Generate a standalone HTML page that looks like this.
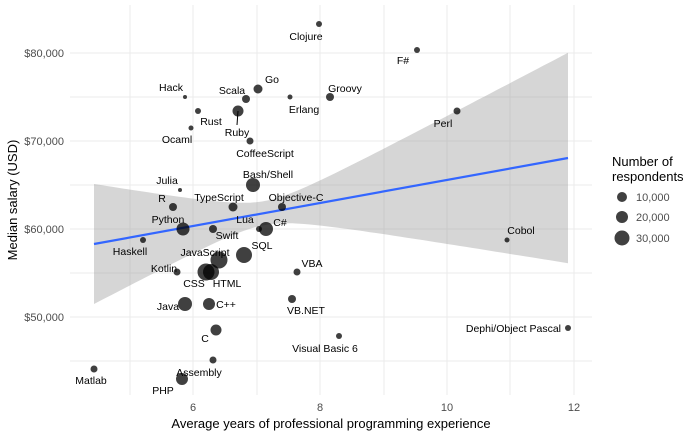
<!DOCTYPE html>
<html><head><meta charset="utf-8"><style>
body{margin:0;background:#fff;}
svg{display:block;font-family:"Liberation Sans",Arial,sans-serif;}
.l{font-size:10.5px;fill:#000;text-anchor:middle;}
.t{font-size:11px;fill:#4d4d4d;}
</style></head><body>
<svg id="s" width="700" height="437" viewBox="0 0 700 437" xmlns="http://www.w3.org/2000/svg">
<g stroke="#ebebeb" stroke-width="1">
<line x1="70" x2="592" y1="53" y2="53"/><line x1="70" x2="592" y1="97" y2="97"/>
<line x1="70" x2="592" y1="141" y2="141"/><line x1="70" x2="592" y1="185" y2="185"/>
<line x1="70" x2="592" y1="229" y2="229"/><line x1="70" x2="592" y1="273" y2="273"/>
<line x1="70" x2="592" y1="317" y2="317"/><line x1="70" x2="592" y1="361" y2="361"/>
<line y1="5" y2="395" x1="130" x2="130"/><line y1="5" y2="395" x1="193" x2="193"/>
<line y1="5" y2="395" x1="257" x2="257"/><line y1="5" y2="395" x1="320" x2="320"/>
<line y1="5" y2="395" x1="384" x2="384"/><line y1="5" y2="395" x1="447" x2="447"/>
<line y1="5" y2="395" x1="510" x2="510"/><line y1="5" y2="395" x1="574" x2="574"/>
</g>
<path id="band" fill="#999" fill-opacity="0.4" d=""/>
<line x1="94" y1="244" x2="568" y2="158" stroke="#3366ff" stroke-width="2.2"/>
<g fill="#000" fill-opacity="0.75">
<circle cx="319" cy="24" r="3"/><circle cx="417" cy="50" r="3"/><circle cx="185" cy="97" r="2"/>
<circle cx="246" cy="99" r="4"/><circle cx="258" cy="89" r="4.5"/><circle cx="290" cy="97" r="2.5"/>
<circle cx="330" cy="97" r="4"/><circle cx="198" cy="111" r="3"/><circle cx="238" cy="111" r="5.5"/>
<circle cx="191" cy="128" r="2.5"/><circle cx="457" cy="111" r="3.5"/><circle cx="250" cy="141" r="3.5"/>
<circle cx="180" cy="190" r="2"/><circle cx="253" cy="185" r="7"/><circle cx="173" cy="207" r="4"/>
<circle cx="233" cy="207" r="4.5"/><circle cx="282" cy="207" r="4"/><circle cx="183" cy="229" r="6.5"/>
<circle cx="213" cy="229" r="4"/><circle cx="259" cy="229" r="3"/><circle cx="266" cy="229" r="7"/>
<circle cx="143" cy="240" r="3"/><circle cx="507" cy="240" r="2.5"/><circle cx="244" cy="255" r="8"/>
<circle cx="219" cy="260" r="8.5"/><circle cx="297" cy="272" r="3.5"/><circle cx="177" cy="272" r="3.5"/>
<circle cx="206" cy="272" r="8.5"/><circle cx="211" cy="272" r="8"/><circle cx="185" cy="304" r="7"/>
<circle cx="209" cy="304" r="6"/><circle cx="292" cy="299" r="4"/><circle cx="216" cy="330" r="5.5"/>
<circle cx="568" cy="328" r="3"/><circle cx="339" cy="336" r="3"/><circle cx="213" cy="360" r="3.5"/>
<circle cx="94" cy="369" r="3.5"/><circle cx="182" cy="379" r="6"/>
</g>
<line x1="238" y1="111" x2="237" y2="125" stroke="#000"/>
<g class="l">
<text x="306" y="40">Clojure</text><text x="403" y="64">F#</text><text x="171" y="91">Hack</text>
<text x="232" y="94">Scala</text><text x="272" y="83">Go</text><text x="304" y="113">Erlang</text>
<text x="345" y="92">Groovy</text><text x="211" y="125">Rust</text><text x="237" y="136">Ruby</text>
<text x="177" y="143">Ocaml</text><text x="443" y="127">Perl</text><text x="265" y="157">CoffeeScript</text>
<text x="167" y="184">Julia</text><text x="268" y="178">Bash/Shell</text><text x="162" y="202">R</text>
<text x="219" y="201">TypeScript</text><text x="296" y="201">Objective-C</text><text x="168" y="223">Python</text>
<text x="227" y="239">Swift</text><text x="245" y="223">Lua</text><text x="280" y="226">C#</text>
<text x="130" y="255">Haskell</text><text x="521" y="234">Cobol</text><text x="262" y="249">SQL</text>
<text x="205" y="256">JavaScript</text><text x="312" y="267">VBA</text><text x="164" y="272">Kotlin</text>
<text x="194" y="287">CSS</text><text x="227" y="287">HTML</text><text x="168" y="310">Java</text>
<text x="226" y="308">C++</text><text x="306" y="314">VB.NET</text><text x="205" y="342">C</text>
<text x="561" y="332" text-anchor="end">Dephi/Object Pascal</text><text x="325" y="352">Visual Basic 6</text>
<text x="199" y="376">Assembly</text><text x="91" y="384">Matlab</text><text x="163" y="394">PHP</text>
</g>
<g class="t" text-anchor="end">
<text x="64" y="57">$80,000</text><text x="64" y="145">$70,000</text>
<text x="64" y="233">$60,000</text><text x="64" y="321">$50,000</text>
</g>
<g class="t" text-anchor="middle">
<text x="193" y="411">6</text><text x="320" y="411">8</text><text x="447" y="411">10</text><text x="574" y="411">12</text>
</g>
<text x="331" y="428" font-size="13" text-anchor="middle">Average years of professional programming experience</text>
<text transform="translate(17,200) rotate(-90)" font-size="13" text-anchor="middle">Median salary (USD)</text>
<text x="612" y="166" font-size="13">Number of</text>
<text x="612" y="181" font-size="13">respondents</text>
<g fill="#000" fill-opacity="0.75">
<circle cx="622" cy="197" r="5"/><circle cx="622" cy="217" r="6"/><circle cx="622" cy="238" r="7.5"/>
</g>
<g class="t" font-size="11"><text x="636" y="201">10,000</text><text x="636" y="221">20,000</text><text x="636" y="242">30,000</text></g>
</svg>
<script>
var up=[],dn=[];
for(var x=94;x<=568;x+=6){
 var yc=244-(x-94)*86/474;
 var h=Math.sqrt(144+0.1187*(x-264.6)*(x-264.6));
 up.push(x+","+(yc-h).toFixed(1));dn.unshift(x+","+(yc+h).toFixed(1));
}
var x=568,yc=158,h=Math.sqrt(144+0.1187*(x-264.6)*(x-264.6));
up.push(x+","+(yc-h).toFixed(1));dn.unshift(x+","+(yc+h).toFixed(1));
document.getElementById("band").setAttribute("d","M"+up.join(" L")+" L"+dn.join(" L")+"Z");
</script>
</body></html>
